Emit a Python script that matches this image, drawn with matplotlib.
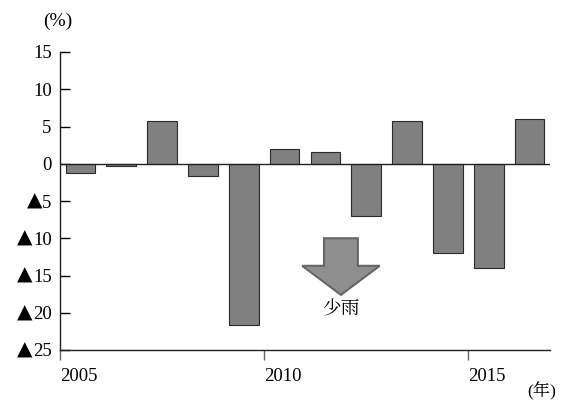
import matplotlib.pyplot as plt
from matplotlib import font_manager as fm
from matplotlib.patches import FancyArrow

names = set(f.name for f in fm.fontManager.ttflist)
mincho = 'Noto Sans CJK JP'
for cand in ['Noto Serif CJK JP', 'Noto Serif JP', 'Noto Sans CJK JP']:
    if cand in names:
        mincho = cand
        break
plt.rcParams['font.family'] = ['Liberation Serif', 'DejaVu Serif', mincho]

years = [2005, 2006, 2007, 2008, 2009, 2010, 2011, 2012, 2013, 2014, 2015, 2016]
change = [-1.3, -0.3, 5.7, -1.6, -21.7, 2.0, 1.6, -7.0, 5.7, -12.0, -14.0, 6.0]
yticks = [15, 10, 5, 0, -5, -10, -15, -20, -25]
ylabels = ['15', '10', '5', '0', '5', '10', '15', '20', '25']
xticks = [2005, 2010, 2015]

fig = plt.figure(figsize=(5.63, 4.01), dpi=100)
ax = fig.add_axes([60 / 563, 1 - 350 / 401, 490 / 563, 298 / 401])

ax.bar([y + 0.5 for y in years], change, width=0.73, color='#808080',
       edgecolor='#2a2a2a', linewidth=0.8, zorder=2)
ax.axhline(0, color='#222222', linewidth=1.0, zorder=3)

ax.set_xlim(2005, 2017)
ax.set_ylim(-25, 15)
ax.set_yticks(yticks)
ax.set_yticklabels(ylabels)
ax.set_xticks(xticks)
ax.set_xticklabels([str(x) for x in xticks], ha='left')

for s in ['top', 'right']:
    ax.spines[s].set_visible(False)
for s in ['left', 'bottom']:
    ax.spines[s].set_color('#222222')
    ax.spines[s].set_linewidth(1.0)
ax.tick_params(axis='y', direction='in', length=7, width=1.0, labelsize=13.5, pad=6,
               labelfontfamily='Liberation Serif')
ax.tick_params(axis='x', direction='out', length=7, width=1.0, labelsize=13.5, pad=6,
               color='#666666', labelfontfamily='Liberation Serif')

# black triangles mark negative values
for v, lab in zip(yticks, ylabels):
    if v < 0:
        ax.annotate('▲', xy=(0, v), xycoords=('axes fraction', 'data'),
                    xytext=(-6 - 6.75 * len(lab), 0), textcoords='offset points',
                    ha='right', va='center', fontsize=14.5, family='DejaVu Serif')

# arrow for 少雨
arr = FancyArrow(2011.88, -10.0, 0, -7.6, width=0.83, head_width=1.9,
                 head_length=3.9, length_includes_head=True,
                 facecolor='#8f8f8f', edgecolor='#666666', linewidth=1.5, zorder=4)
ax.add_patch(arr)
ax.text(2011.88, -19.6, '少雨', ha='center', va='center', fontsize=13.5,
        family=[mincho])

fig.text(58 / 563, 1 - 21 / 401, '(%)', ha='center', va='center', fontsize=14,
         family='Liberation Serif')
fig.text(542 / 563, 1 - 391 / 401, '(年)', ha='center', va='center', fontsize=12.5,
         family=['Liberation Serif', mincho])

fig.savefig('out.png', dpi=100)
